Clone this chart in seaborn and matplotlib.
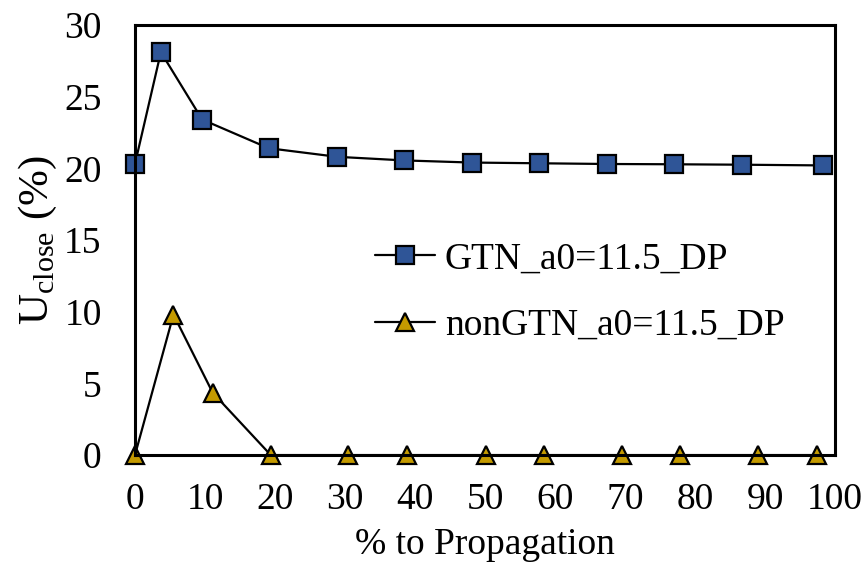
import pandas as pd
from matplotlib import pyplot as plt
import seaborn as sns

# values
x_gtn = [0, 3.7, 9.6, 19.1, 28.9, 38.4, 48.1, 57.7, 67.4, 77.0, 86.7, 98.3]
y_gtn = [20.3, 28.1, 23.4, 21.4, 20.8, 20.55, 20.4, 20.35, 20.3, 20.28, 20.25, 20.2]
x_non = [0, 5.5, 11.1, 19.4, 30.4, 38.9, 50.1, 58.4, 69.6, 77.9, 89.0, 97.4]
y_non = [0, 9.8, 4.35, 0, 0, 0, 0, 0, 0, 0, 0, 0]
x_ticks = list(range(0, 101, 10))
y_ticks = list(range(0, 31, 5))

gtn = pd.DataFrame({'x': x_gtn, 'y': y_gtn})
non = pd.DataFrame({'x': x_non, 'y': y_non})

sns.set_style('white')
plt.rcParams['font.family'] = ['Liberation Serif', 'DejaVu Serif']
plt.rcParams['mathtext.fontset'] = 'custom'
plt.rcParams['mathtext.rm'] = 'Liberation Serif'
plt.rcParams['text.color'] = 'black'
plt.rcParams['axes.labelcolor'] = 'black'

fig = plt.figure(figsize=(8.68, 5.66), dpi=100)
ax = fig.add_axes([0.1555, 0.196, 0.8065, 0.76])

sns.lineplot(x='x', y='y', data=gtn, ax=ax, color='black', linewidth=1.6,
             marker='s', markersize=12.5, markerfacecolor='#2F5597',
             markeredgecolor='black', markeredgewidth=1.6, clip_on=False,
             label='GTN_a0=11.5_DP')
sns.lineplot(x='x', y='y', data=non, ax=ax, color='black', linewidth=1.6,
             marker='^', markersize=13, markerfacecolor='#C49A00',
             markeredgecolor='black', markeredgewidth=1.6, clip_on=False,
             label='nonGTN_a0=11.5_DP')

ax.set_xlim(0, 100)
ax.set_ylim(0, 30)
ax.set_xticks(x_ticks)
ax.set_yticks(y_ticks)
ax.tick_params(direction='in', length=6, width=1.6, labelsize=27,
               colors='black')
ax.tick_params(axis='x', pad=20)
ax.tick_params(axis='y', pad=24)
for s in ax.spines.values():
    s.set_linewidth(2.2)
    s.set_color('black')

ax.set_xlabel('% to Propagation', fontsize=27, labelpad=7)
ax.set_ylabel(r'U$_{\mathrm{close}}$ (%)', fontsize=31, labelpad=4)

ax.legend(loc='upper left', bbox_to_anchor=(0.322, 0.53), frameon=False,
          fontsize=27, handlelength=1.6, handletextpad=0.25, labelspacing=0.85,
          borderaxespad=0)

plt.savefig('out.png', dpi=100)
